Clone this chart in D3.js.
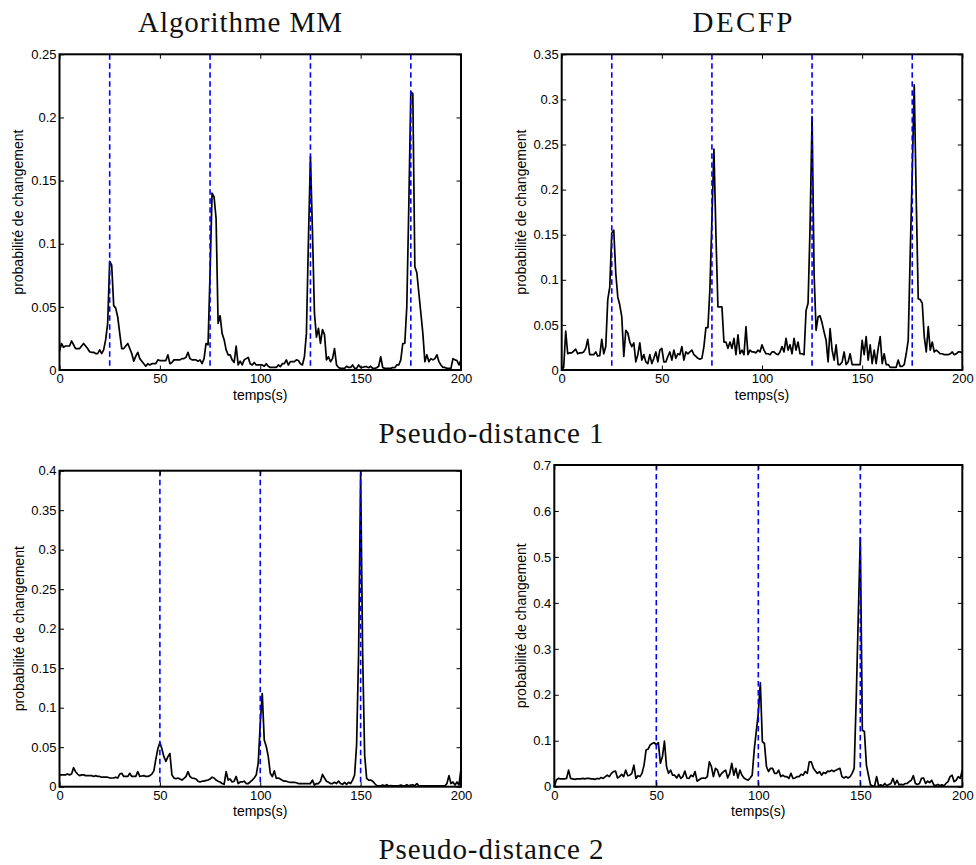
<!DOCTYPE html>
<html><head><meta charset="utf-8">
<script src="https://cdn.jsdelivr.net/npm/d3@7"></script>
<style>body{margin:0;background:#fff}</style>
</head><body>
<svg id="c" width="976" height="865"></svg>
<script>
// ---- data (one value per second, t = 0..200) ----
const mmPD1 = [0.015,0.021,0.018,0.019,0.019,0.019,0.023,0.020,0.017,0.017,
 0.017,0.019,0.021,0.019,0.017,0.0145,0.014,0.014,0.013,0.013,
 0.016,0.013,0.016,0.024,0.037,0.086,0.083,0.051,0.049,0.042,
 0.029,0.017,0.017,0.019,0.021,0.017,0.013,0.007,0.011,0.014,
 0.009,0.007,0.005,0.003,0.005,0.004,0.005,0.005,0.005,0.008,
 0.0075,0.0075,0.0075,0.0075,0.012,0.005,0.006,0.008,0.008,0.008,
 0.008,0.009,0.009,0.010,0.014,0.009,0.008,0.008,0.008,0.007,
 0.008,0.005,0.009,0.021,0.020,0.077,0.140,0.137,0.120,0.037,
 0.043,0.029,0.024,0.016,0.012,0.012,0.008,0.006,0.019,0.004,
 0.007,0.004,0.008,0.009,0.010,0.005,0.004,0.006,0.004,0.004,
 0.004,0.004,0.003,0.005,0.003,0.002,0.002,0.002,0.002,0.004,
 0.0026,0.005,0.005,0.008,0.004,0.0066,0.0066,0.0066,0.008,0.0075,
 0.005,0.004,0.0105,0.029,0.103,0.169,0.11,0.045,0.026,0.033,
 0.021,0.032,0.028,0.008,0.0105,0.0066,0.009,0.017,0.004,0.002,
 0.0013,0.0013,0.0013,0.003,0.002,0.002,0.004,0.0013,0.0013,0.004,
 0.002,0.002,0.0026,0.0026,0.0018,0.003,0.0013,0.0013,0.0018,0.003,
 0.0105,0.002,0.0013,0.0013,0.0013,0.0013,0.002,0.0018,0.004,0.004,
 0.008,0.021,0.021,0.050,0.130,0.220,0.219,0.082,0.077,0.061,
 0.045,0.029,0.0066,0.012,0.0066,0.009,0.008,0.009,0.012,0.0066,
 0.004,0.002,0.002,0.0013,0.0013,0.0013,0.009,0.008,0.0075,0.004,
 0.008];

const decfpPD1 = [0.0,0.003,0.043,0.018,0.019,0.019,0.021,0.023,0.018,0.019,
 0.019,0.020,0.024,0.034,0.017,0.017,0.017,0.020,0.0155,0.016,
 0.034,0.018,0.026,0.078,0.092,0.152,0.155,0.107,0.081,0.072,
 0.059,0.015,0.044,0.041,0.031,0.026,0.030,0.009,0.017,0.030,
 0.011,0.017,0.009,0.007,0.017,0.007,0.013,0.020,0.009,0.022,
 0.024,0.009,0.009,0.015,0.020,0.011,0.022,0.013,0.018,0.017,
 0.026,0.011,0.020,0.018,0.020,0.022,0.017,0.015,0.013,0.012,
 0.013,0.026,0.047,0.047,0.090,0.167,0.245,0.150,0.070,0.070,
 0.070,0.031,0.031,0.024,0.031,0.024,0.035,0.017,0.039,0.018,
 0.022,0.017,0.048,0.017,0.022,0.020,0.020,0.019,0.022,0.020,
 0.028,0.022,0.018,0.018,0.017,0.020,0.020,0.018,0.017,0.020,
 0.026,0.020,0.035,0.022,0.028,0.018,0.035,0.022,0.031,0.018,
 0.018,0.017,0.066,0.074,0.159,0.281,0.107,0.044,0.059,0.060,
 0.052,0.042,0.033,0.009,0.046,0.022,0.011,0.028,0.006,0.006,
 0.009,0.020,0.006,0.009,0.018,0.006,0.006,0.006,0.006,0.006,
 0.033,0.017,0.037,0.011,0.028,0.007,0.022,0.007,0.024,0.037,
 0.007,0.018,0.006,0.006,0.003,0.003,0.003,0.003,0.011,0.004,
 0.004,0.006,0.018,0.033,0.129,0.218,0.316,0.190,0.079,0.078,
 0.074,0.037,0.020,0.048,0.022,0.031,0.020,0.022,0.020,0.018,
 0.018,0.017,0.017,0.017,0.018,0.020,0.017,0.018,0.020,0.020,
 0.019];

const mmPD2 = [0.015,0.015,0.015,0.015,0.016,0.015,0.016,0.024,0.019,0.016,
 0.014,0.015,0.015,0.014,0.014,0.014,0.014,0.013,0.014,0.013,
 0.013,0.012,0.012,0.012,0.012,0.011,0.011,0.011,0.012,0.011,
 0.016,0.017,0.013,0.013,0.013,0.017,0.013,0.013,0.013,0.019,
 0.013,0.0135,0.014,0.013,0.013,0.014,0.016,0.020,0.035,0.048,
 0.056,0.048,0.038,0.032,0.038,0.042,0.015,0.011,0.010,0.011,
 0.0097,0.0084,0.0105,0.0127,0.019,0.0127,0.011,0.0105,0.0097,0.007,
 0.006,0.007,0.007,0.008,0.0084,0.0097,0.012,0.011,0.0084,0.007,
 0.006,0.004,0.003,0.019,0.0084,0.0097,0.006,0.007,0.013,0.004,
 0.006,0.006,0.007,0.004,0.004,0.006,0.0084,0.011,0.015,0.030,
 0.080,0.118,0.059,0.051,0.038,0.017,0.0127,0.020,0.0105,0.011,
 0.0097,0.008,0.007,0.007,0.006,0.0055,0.0055,0.0055,0.005,0.004,
 0.004,0.004,0.004,0.004,0.004,0.004,0.0084,0.002,0.004,0.004,
 0.007,0.0156,0.011,0.007,0.0055,0.004,0.004,0.0055,0.004,0.007,
 0.004,0.003,0.0055,0.003,0.0055,0.004,0.0084,0.0148,0.053,0.170,
 0.395,0.170,0.040,0.0105,0.0084,0.0084,0.007,0.004,0.0013,0.001,
 0.001,0.002,0.001,0.0025,0.001,0.0013,0.001,0.001,0.001,0.001,
 0.002,0.001,0.001,0.0025,0.001,0.002,0.0025,0.001,0.004,0.001,
 0.001,0.001,0.001,0.001,0.001,0.001,0.001,0.001,0.001,0.001,
 0.001,0.001,0.001,0.004,0.014,0.004,0.006,0.002,0.006,0.002,
 0.023];

const decfpPD2 = [0.0,0.0145,0.018,0.017,0.017,0.017,0.018,0.036,0.018,0.017,
 0.016,0.017,0.017,0.017,0.018,0.017,0.018,0.018,0.017,0.017,
 0.016,0.018,0.017,0.020,0.018,0.022,0.025,0.022,0.029,0.033,
 0.034,0.019,0.022,0.027,0.022,0.036,0.024,0.025,0.029,0.047,
 0.018,0.024,0.022,0.029,0.047,0.080,0.082,0.091,0.094,0.096,
 0.091,0.096,0.051,0.065,0.099,0.044,0.029,0.036,0.025,0.025,
 0.019,0.027,0.018,0.022,0.034,0.019,0.018,0.025,0.022,0.033,
 0.012,0.015,0.018,0.019,0.018,0.022,0.054,0.044,0.022,0.040,
 0.036,0.022,0.029,0.033,0.036,0.019,0.029,0.051,0.025,0.040,
 0.019,0.036,0.025,0.019,0.016,0.014,0.019,0.025,0.080,0.120,
 0.160,0.226,0.098,0.094,0.044,0.033,0.040,0.040,0.029,0.029,
 0.036,0.022,0.025,0.022,0.022,0.018,0.029,0.018,0.019,0.022,
 0.022,0.027,0.025,0.033,0.029,0.054,0.054,0.040,0.034,0.029,
 0.033,0.025,0.031,0.029,0.034,0.033,0.036,0.033,0.036,0.038,
 0.040,0.022,0.019,0.022,0.019,0.022,0.029,0.040,0.190,0.370,
 0.542,0.123,0.120,0.047,0.025,0.004,0.0015,0.0015,0.022,0.0015,
 0.004,0.0015,0.007,0.002,0.005,0.007,0.018,0.005,0.014,0.004,
 0.005,0.004,0.007,0.007,0.011,0.014,0.024,0.007,0.005,0.007,
 0.018,0.019,0.007,0.012,0.009,0.014,0.004,0.002,0.005,0.002,
 0.004,0.002,0.007,0.011,0.022,0.025,0.011,0.014,0.022,0.018,
 0.036];

const changesPD1 = [25, 75, 125, 175];
const changesPD2 = [50, 100, 150];

const xTicks = [0, 50, 100, 150, 200];
const yTicksMM1 = [0, 0.05, 0.1, 0.15, 0.2, 0.25];
const yTicksDE1 = [0, 0.05, 0.1, 0.15, 0.2, 0.25, 0.3, 0.35];
const yTicksMM2 = [0, 0.05, 0.1, 0.15, 0.2, 0.25, 0.3, 0.35, 0.4];
const yTicksDE2 = [0, 0.1, 0.2, 0.3, 0.4, 0.5, 0.6, 0.7];

const colTitles = ["Algorithme MM", "DECFP"];
const rowTitles = ["Pseudo-distance 1", "Pseudo-distance 2"];
const xLabel = "temps(s)";
const yLabel = "probabilité de changement";

// ---- layout ----
const panels = [
  {data: mmPD1,    ticks: yTicksMM1, changes: changesPD1, box: [59.5, 54.3, 461, 370],    ylx: 18.5},
  {data: decfpPD1, ticks: yTicksDE1, changes: changesPD1, box: [561.7, 54.3, 962.3, 370], ylx: 520.7},
  {data: mmPD2,    ticks: yTicksMM2, changes: changesPD2, box: [59.5, 470.7, 461, 786.7], ylx: 19.3},
  {data: decfpPD2, ticks: yTicksDE2, changes: changesPD2, box: [554.3, 465, 962.3, 786.7], ylx: 520.7}
];

const svg = d3.select("#c");
const sans = "'Liberation Sans', Arial, Helvetica, sans-serif";
const fmt = d3.format("~g");
const TK = 4.5;

panels.forEach(p => {
  const [x0, y0, x1, y1] = p.box;
  const x = d3.scaleLinear().domain([0, 200]).range([x0, x1]);
  const y = d3.scaleLinear().domain([0, p.ticks[p.ticks.length - 1]]).range([y1, y0]);
  const g = svg.append("g");

  // data line
  const line = d3.line().x((d, i) => x(i)).y(d => y(d));
  g.append("path").datum(p.data)
    .attr("d", line).attr("fill", "none")
    .attr("stroke", "#000").attr("stroke-width", 1.7)
    .attr("stroke-linejoin", "round");

  // change markers
  g.selectAll("line.chg").data(p.changes).join("line")
    .attr("x1", d => x(d)).attr("x2", d => x(d))
    .attr("y1", y0).attr("y2", y1)
    .attr("stroke", "#0000ff").attr("stroke-width", 1.6)
    .attr("stroke-dasharray", "5.5,3.5");

  // axes with inward ticks
  const axL = g.append("g").attr("transform", `translate(${x0},0)`)
    .call(d3.axisLeft(y).tickValues(p.ticks).tickFormat(fmt).tickSize(-TK).tickPadding(3));
  const axR = g.append("g").attr("transform", `translate(${x1},0)`)
    .call(d3.axisRight(y).tickValues(p.ticks).tickFormat("").tickSize(-TK));
  const axB = g.append("g").attr("transform", `translate(0,${y1})`)
    .call(d3.axisBottom(x).tickValues(xTicks).tickFormat(fmt).tickSize(-TK).tickPadding(4));
  const axT = g.append("g").attr("transform", `translate(0,${y0})`)
    .call(d3.axisTop(x).tickValues(xTicks).tickFormat("").tickSize(-TK));
  [axL, axR, axB, axT].forEach(a => {
    a.select(".domain").remove();
    a.selectAll(".tick line").attr("stroke", "#000").attr("stroke-width", 1);
    a.selectAll("text").attr("font-family", sans).attr("font-size", 13).attr("fill", "#000");
  });

  // box
  g.append("rect").attr("x", x0).attr("y", y0)
    .attr("width", x1 - x0).attr("height", y1 - y0)
    .attr("fill", "none").attr("stroke", "#000").attr("stroke-width", 2);

  // labels
  g.append("text").attr("x", (x0 + x1) / 2).attr("y", y1 + 29.5)
    .attr("text-anchor", "middle").attr("font-family", sans).attr("font-size", 14)
    .text(xLabel);
  g.append("text")
    .attr("transform", `translate(${p.ylx},${(y0 + y1) / 2}) rotate(-90)`)
    .attr("dy", "0.35em").attr("text-anchor", "middle")
    .attr("font-family", sans).attr("font-size", 14)
    .text(yLabel);
});

// titles
const serif = "'Liberation Serif', 'Times New Roman', serif";
const titleSpec = [
  {text: colTitles[0], x: 240, y: 32.3, w: 204},
  {text: colTitles[1], x: 742.5, y: 32.3, w: 100},
  {text: rowTitles[0], x: 491, y: 442.7, w: 225},
  {text: rowTitles[1], x: 491, y: 859.2, w: 225}
];
svg.selectAll("text.title").data(titleSpec).join("text")
  .attr("class", "title")
  .attr("x", d => d.x).attr("y", d => d.y)
  .attr("text-anchor", "middle")
  .attr("font-family", serif).attr("font-size", 29)
  .attr("textLength", d => d.w).attr("lengthAdjust", "spacing")
  .attr("fill", "#111")
  .text(d => d.text);
</script>
</body></html>
